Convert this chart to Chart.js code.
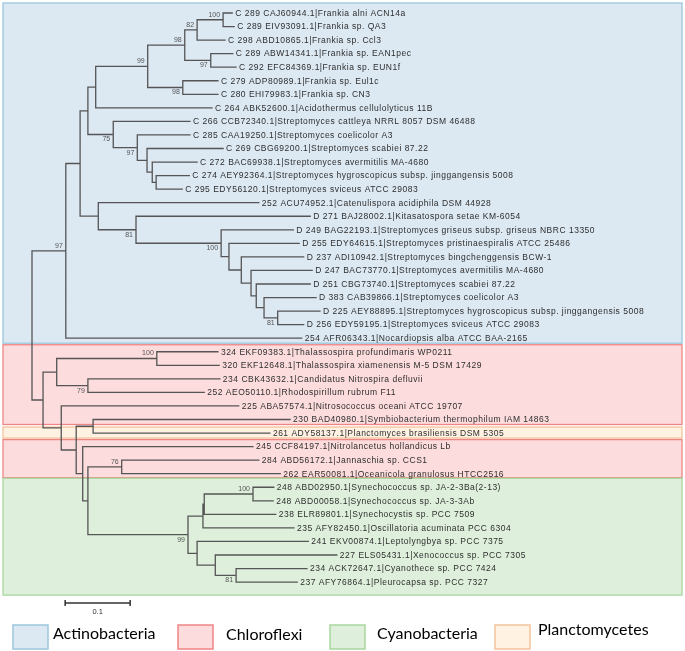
<!DOCTYPE html>
<html>
<head>
<meta charset="utf-8">
<script src="https://cdn.jsdelivr.net/npm/chart.js@4.4.1/dist/chart.umd.min.js"></script>
<style>
  html, body { margin: 0; padding: 0; background: #fff; }
  #wrap { width: 685px; height: 651px; position: relative; }
</style>
</head>
<body>
<div id="wrap"><canvas id="tree"></canvas></div>
<script>
// leaves, top to bottom
const leafLabels = [
  'C 289 CAJ60944.1|Frankia alni ACN14a',
  'C 289 EIV93091.1|Frankia sp. QA3',
  'C 298 ABD10865.1|Frankia sp. Ccl3',
  'C 289 ABW14341.1|Frankia sp. EAN1pec',
  'C 292 EFC84369.1|Frankia sp. EUN1f',
  'C 279 ADP80989.1|Frankia sp. Eul1c',
  'C 280 EHI79983.1|Frankia sp. CN3',
  'C 264 ABK52600.1|Acidothermus cellulolyticus 11B',
  'C 266 CCB72340.1|Streptomyces cattleya NRRL 8057 DSM 46488',
  'C 285 CAA19250.1|Streptomyces coelicolor A3',
  'C 269 CBG69200.1|Streptomyces scabiei 87.22',
  'C 272 BAC69938.1|Streptomyces avermitilis MA-4680',
  'C 274 AEY92364.1|Streptomyces hygroscopicus subsp. jinggangensis 5008',
  'C 295 EDY56120.1|Streptomyces sviceus ATCC 29083',
  '252 ACU74952.1|Catenulispora acidiphila DSM 44928',
  'D 271 BAJ28002.1|Kitasatospora setae KM-6054',
  'D 249 BAG22193.1|Streptomyces griseus subsp. griseus NBRC 13350',
  'D 255 EDY64615.1|Streptomyces pristinaespiralis ATCC 25486',
  'D 237 ADI10942.1|Streptomyces bingchenggensis BCW-1',
  'D 247 BAC73770.1|Streptomyces avermitilis MA-4680',
  'D 251 CBG73740.1|Streptomyces scabiei 87.22',
  'D 383 CAB39866.1|Streptomyces coelicolor A3',
  'D 225 AEY88895.1|Streptomyces hygroscopicus subsp. jinggangensis 5008',
  'D 256 EDY59195.1|Streptomyces sviceus ATCC 29083',
  '254 AFR06343.1|Nocardiopsis alba ATCC BAA-2165',
  '324 EKF09383.1|Thalassospira profundimaris WP0211',
  '320 EKF12648.1|Thalassospira xiamenensis M-5 DSM 17429',
  '234 CBK43632.1|Candidatus Nitrospira defluvii',
  '252 AEO50110.1|Rhodospirillum rubrum F11',
  '225 ABA57574.1|Nitrosococcus oceani ATCC 19707',
  '230 BAD40980.1|Symbiobacterium thermophilum IAM 14863',
  '261 ADY58137.1|Planctomyces brasiliensis DSM 5305',
  '245 CCF84197.1|Nitrolancetus hollandicus Lb',
  '284 ABD56172.1|Jannaschia sp. CCS1',
  '262 EAR50081.1|Oceanicola granulosus HTCC2516',
  '248 ABD02950.1|Synechococcus sp. JA-2-3Ba(2-13)',
  '248 ABD00058.1|Synechococcus sp. JA-3-3Ab',
  '238 ELR89801.1|Synechocystis sp. PCC 7509',
  '235 AFY82450.1|Oscillatoria acuminata PCC 6304',
  '241 EKV00874.1|Leptolyngbya sp. PCC 7375',
  '227 ELS05431.1|Xenococcus sp. PCC 7305',
  '234 ACK72647.1|Cyanothece sp. PCC 7424',
  '237 AFY76864.1|Pleurocapsa sp. PCC 7327'
];
// distance from root to each leaf
const leafDepth = [
  0.308, 0.311, 0.297, 0.309, 0.314, 0.286, 0.286, 0.277, 0.243, 0.243,
  0.294, 0.254, 0.242, 0.231, 0.349, 0.428, 0.402, 0.411, 0.418, 0.431,
  0.428, 0.437, 0.443, 0.418, 0.415, 0.286, 0.288, 0.289, 0.265, 0.318,
  0.397, 0.366, 0.340, 0.349, 0.382, 0.372, 0.371, 0.375, 0.403, 0.425,
  0.469, 0.423, 0.408
];

// internal nodes: numbers are leaf rows, strings are other nodes
const nodeNames = ['A','B','C','D','E','F','G','L','K','J','I','H','Y',
  'V','U','T','S','R','Q','P','O','N','M','W',
  'Ra','Rb','Rc','Rd','r1','c0','c1','c2','c3','c4','c5','c6','r2','r3','r4','r5','r6','root'];
const nodeDepth = [0.294, 0.254, 0.275, 0.235, 0.232, 0.178, 0.098, 0.191, 0.185, 0.177, 0.162, 0.125, 0.086,
  0.378, 0.357, 0.345, 0.337, 0.322, 0.303, 0.291, 0.160, 0.102, 0.074, 0.052,
  0.192, 0.086, 0.038, 0.094, 0.138, 0.340, 0.265, 0.263, 0.314, 0.282, 0.254, 0.240, 0.086, 0.078, 0.068, 0.045, 0.017, 0];
const nodeKids = [[0,1],['A',2],[3,4],['B','C'],[5,6],['D','E'],['F',7],[12,13],[11,'L'],[10,'K'],[9,'J'],[8,'I'],['G','H'],
  [22,23],[21,'V'],[20,'U'],[19,'T'],[18,'S'],[17,'R'],[16,'Q'],[15,'P'],[14,'O'],['Y','N'],['M',24],
  [25,26],[27,28],['Ra','Rb'],[30,31],[33,34],[35,36],['c0',37],['c1',38],[41,42],[40,'c3'],[39,'c4'],['c2','c5'],['r1','c6'],[32,'r2'],['Rd','r3'],[29,'r4'],['Rc','r5'],['W','r6']];
const nodeSupport = [100, 82, 97, 98, 98, 99, null, null, null, null, 97, 75, null,
  81, null, null, null, null, null, 100, 81, null, null, 97,
  100, 79, null, null, 76, 100, null, null, 81, null, null, 99, null, null, null, null, null, null];

const groupNames = ['Actinobacteria', 'Chloroflexi', 'Cyanobacteria', 'Planctomycetes'];
// shaded bands: group index, first row, last row
const bandGroup = [0, 1, 3, 1, 2];
const bandFirst = [0, 25, 31, 32, 35];
const bandLast = [24, 30, 31, 34, 42];

const groupFill = ['#dce9f3', '#fcdcdc', '#def0dc', '#fff2e3'];
const groupEdge = ['#9cc6dc', '#ef8585', '#a9d69f', '#f3c39c'];
const bandPadTop = [10, 7, 6, 7, 9];
const bandPadBot = [5, 5, 5, 4, 13];

const scaleBarStart = 0.051;
const scaleBarLen = 0.1;
const scaleBarRow = 43.55;

// layout of the tree
const nodeIdx = {};
nodeNames.forEach((n, i) => nodeIdx[n] = i);
const depthOf = k => typeof k === 'number' ? leafDepth[k] : nodeDepth[nodeIdx[k]];
const rowCache = {};
function rowOf(k) {
  if (typeof k === 'number') return k;
  if (rowCache[k] !== undefined) return rowCache[k];
  const kids = nodeKids[nodeIdx[k]];
  const r = kids.map(rowOf).reduce((a, b) => a + b, 0) / kids.length;
  rowCache[k] = r;
  return r;
}
const parentOf = {};
nodeKids.forEach((kids, i) => kids.forEach((k, j) => parentOf[k] = { p: nodeNames[i], first: j === 0 }));

const branchPts = [];
const gap = { x: NaN, y: NaN };
nodeNames.forEach((n, i) => {
  const d = nodeDepth[i];
  const rows = nodeKids[i].map(rowOf);
  branchPts.push({ x: d, y: Math.min(...rows) }, { x: d, y: Math.max(...rows) }, gap);
  nodeKids[i].forEach(k => {
    branchPts.push({ x: d, y: rowOf(k) }, { x: depthOf(k), y: rowOf(k) }, gap);
  });
});

const scalePts = [
  { x: scaleBarStart, y: scaleBarRow - 0.22 }, { x: scaleBarStart, y: scaleBarRow + 0.22 }, gap,
  { x: scaleBarStart, y: scaleBarRow }, { x: scaleBarStart + scaleBarLen, y: scaleBarRow }, gap,
  { x: scaleBarStart + scaleBarLen, y: scaleBarRow - 0.22 }, { x: scaleBarStart + scaleBarLen, y: scaleBarRow + 0.22 }
];

const decor = {
  id: 'decor',
  beforeDatasetsDraw(chart) {
    const { ctx, scales: { y } } = chart;
    ctx.save();
    bandGroup.forEach((g, i) => {
      const top = y.getPixelForValue(bandFirst[i]) - bandPadTop[i];
      const bot = y.getPixelForValue(bandLast[i]) + bandPadBot[i];
      ctx.fillStyle = groupFill[g];
      ctx.fillRect(3, top, 679, bot - top);
      ctx.strokeStyle = groupEdge[g];
      ctx.lineWidth = 1.3;
      ctx.strokeRect(3, top, 679, bot - top);
    });
    ctx.restore();
  },
  afterDatasetsDraw(chart) {
    const { ctx, scales: { x, y } } = chart;
    ctx.save();
    ctx.fillStyle = '#2e2e2e';
    ctx.font = '8.5px "Liberation Sans", Arial, sans-serif';
    ctx.letterSpacing = '0.5px';
    ctx.textBaseline = 'middle';
    ctx.textAlign = 'left';
    leafLabels.forEach((t, i) => {
      ctx.fillText(t, x.getPixelForValue(leafDepth[i]) + 3, y.getPixelForValue(i) + 0.5);
    });
    ctx.letterSpacing = '0px';
    ctx.font = '7px "Liberation Sans", Arial, sans-serif';
    ctx.fillStyle = '#555';
    ctx.textAlign = 'right';
    nodeNames.forEach((n, i) => {
      if (nodeSupport[i] == null) return;
      const px = x.getPixelForValue(nodeDepth[i]) - 3;
      const above = parentOf[n] ? parentOf[n].first : true;
      const py = y.getPixelForValue(rowOf(n)) + (above ? -5 : 5);
      ctx.fillText(String(nodeSupport[i]), px, py);
    });
    // scale bar label
    ctx.textAlign = 'center';
    ctx.font = '7.5px "Liberation Sans", Arial, sans-serif';
    ctx.fillStyle = '#333';
    ctx.fillText(String(scaleBarLen), x.getPixelForValue(scaleBarStart + scaleBarLen / 2), y.getPixelForValue(scaleBarRow) + 9);
    // legend
    const boxX = [13, 178, 330, 495];
    const textX = [53, 226, 377, 538];
    const textY = [634, 635, 634, 630];
    groupNames.forEach((g, i) => {
      ctx.fillStyle = groupFill[i];
      ctx.fillRect(boxX[i], 625, 35, 24);
      ctx.strokeStyle = groupEdge[i];
      ctx.lineWidth = 1.5;
      ctx.strokeRect(boxX[i], 625, 35, 24);
      ctx.fillStyle = '#000';
      ctx.font = '16px Lato, "Open Sans", sans-serif';
      ctx.textAlign = 'left';
      ctx.fillText(g, textX[i], textY[i]);
    });
    ctx.restore();
  }
};

new Chart(document.getElementById('tree'), {
  type: 'scatter',
  data: {
    datasets: [
      {
        label: 'branches',
        data: branchPts,
        showLine: true,
        spanGaps: false,
        borderColor: '#555',
        borderWidth: 1.3,
        pointRadius: 0,
        borderCapStyle: 'square'
      },
      {
        label: 'scale',
        data: scalePts,
        showLine: true,
        spanGaps: false,
        borderColor: '#333',
        borderWidth: 1.5,
        pointRadius: 0
      }
    ]
  },
  options: {
    responsive: true,
    maintainAspectRatio: false,
    animation: false,
    layout: { padding: 0 },
    plugins: { legend: { display: false }, tooltip: { enabled: false } },
    scales: {
      x: { type: 'linear', display: false, min: -0.04923, max: 1.00462 },
      y: { type: 'linear', display: false, reverse: true, min: -0.959, max: 47.085 }
    }
  },
  plugins: [decor]
});
</script>
</body>
</html>
